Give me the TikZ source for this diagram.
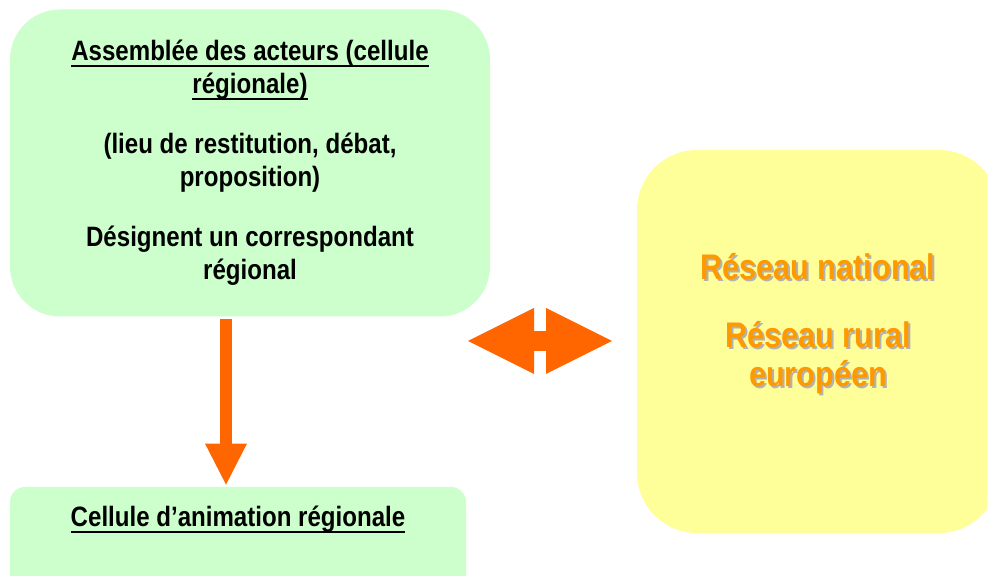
\documentclass[tikz,border=0pt]{standalone}
\usepackage{fontspec}
\setmainfont[FakeStretch=0.86]{Liberation Sans}
\usetikzlibrary{arrows.meta}

\definecolor{boxgreen}{HTML}{CCFFCC}
\definecolor{boxyellow}{HTML}{FFFF99}
\definecolor{arroworange}{HTML}{FF6600}
\definecolor{textorange}{HTML}{FF9900}
\definecolor{shadowgray}{HTML}{B2B2B2}

\newcommand{\blackfont}{\fontsize{14pt}{16.5pt}\selectfont\bfseries}
\newcommand{\orangefont}{\fontsize{17.8pt}{19.5pt}\selectfont\bfseries}
\newcommand{\ulline}[1]{\setbox0\hbox{#1}\rlap{\rule[-3pt]{\wd0}{1pt}}\box0}

\begin{document}
\begin{tikzpicture}[x=.5pt,y=-.5pt,
  greenbox/.style={fill=boxgreen,inner sep=0pt},
  bigtip/.style={Triangle[width=#1,length=#1,line width=0pt]}]
  \useasboundingbox (0,0) rectangle (987,576);
  \clip (0,0) rectangle (987,576);

  \node [greenbox, rounded corners=25pt, minimum width=240pt, minimum height=153.5pt, align=center, font=\blackfont] (assemblee) at (250,163)
    {\ulline{Assemblée des acteurs (cellule}\\\ulline{régionale)}\\[13.5pt](lieu de restitution, débat,\\proposition)\\[13.5pt]Désignent un correspondant\\régional};

  \node [greenbox, rounded corners=7.5pt, minimum width=228pt, minimum height=52pt] (cellule) at (238,539) {};
  \node [anchor=base, font=\blackfont] (cellulelabel) at (238,527) {\ulline{Cellule d’animation régionale}};

  \node [fill=boxyellow, rounded corners=30pt, minimum width=181pt, minimum height=191.5pt] (reseau) at (818,341.5) {};
  \node [align=center, font=\orangefont, text=shadowgray] (reseauombre) at (820,326)
    {Réseau national\\[14.5pt]Réseau rural\\européen};
  \node [align=center, font=\orangefont, text=textorange] (reseaulabel) at (818,324)
    {Réseau national\\[14.5pt]Réseau rural\\européen};

  \coordinate (pied) at (226,0);
  \draw [arroworange, line width=6pt, -{Triangle[width=21pt,length=20.5pt,line width=0pt]}, shorten <=1pt, shorten >=1pt]
    (assemblee.south -| pied) -- (cellule.north -| pied);

  \coordinate (gauche) at (468,341);
  \coordinate (droite) at (612,341);
  \draw [arroworange, line width=10pt, {Triangle[width=33pt,length=33pt,line width=0pt]}-{Triangle[width=33pt,length=33pt,line width=0pt]}]
    (gauche) -- (droite);
\end{tikzpicture}
\end{document}
